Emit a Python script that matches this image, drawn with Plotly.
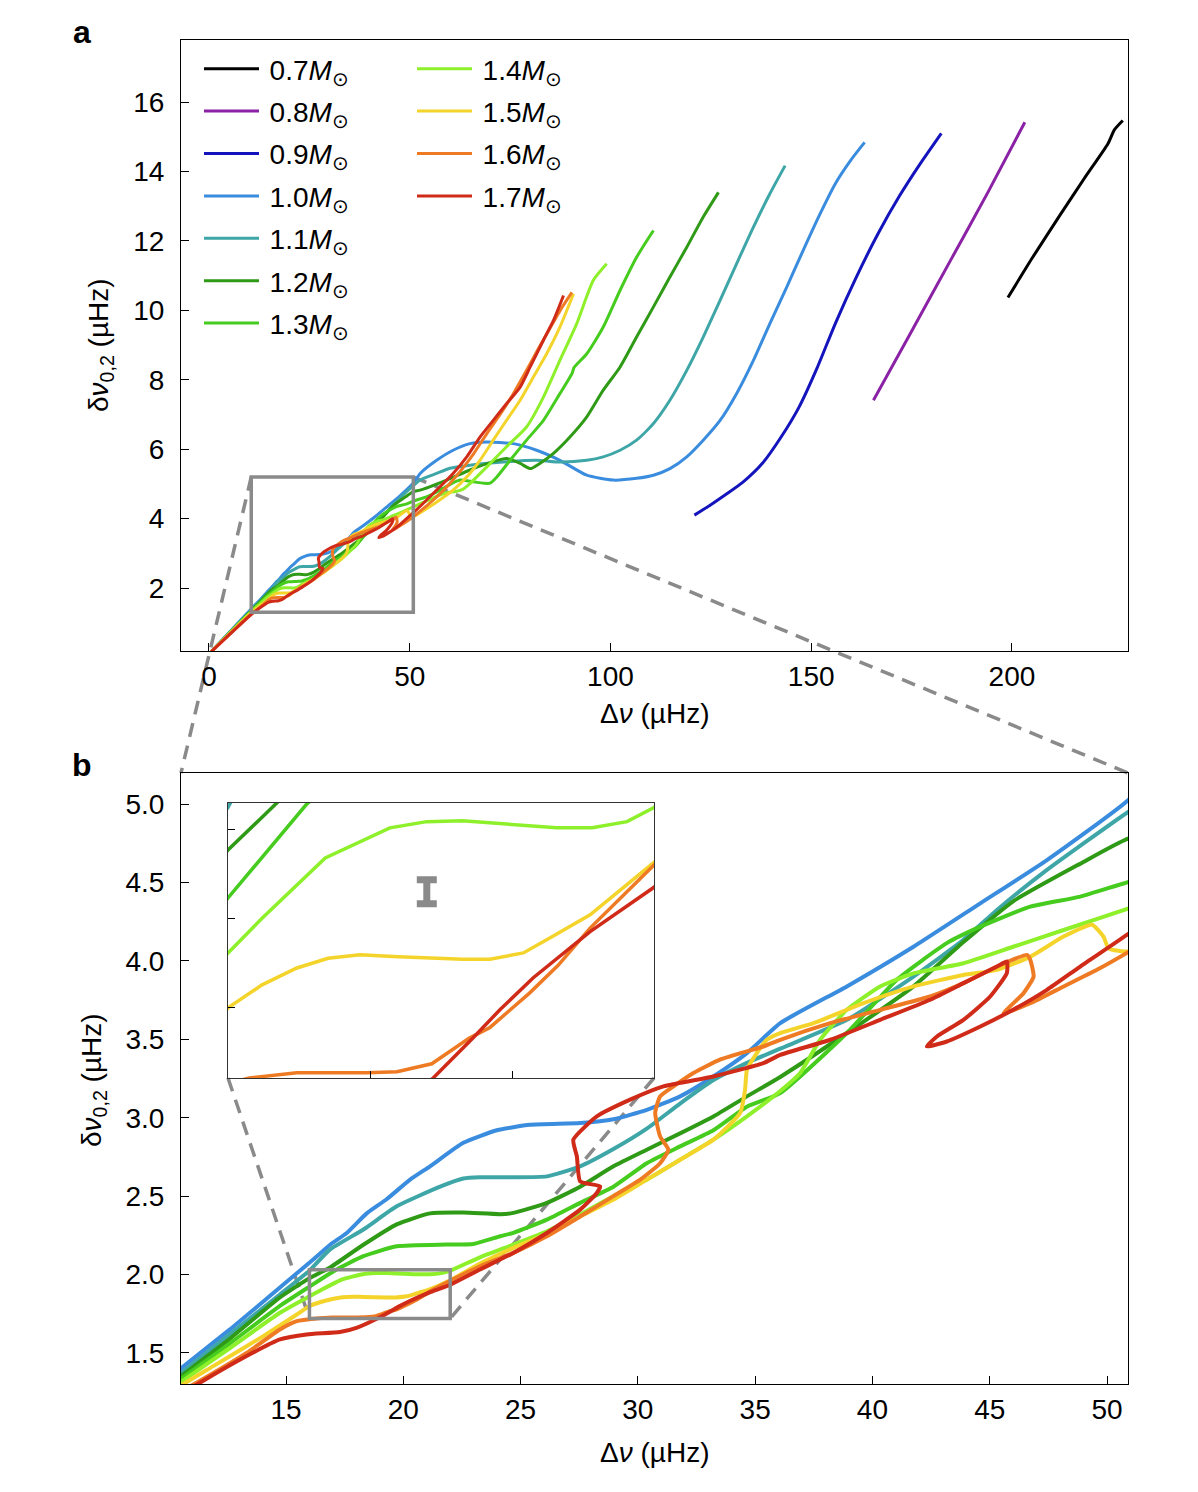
import plotly.graph_objects as go

# the page puts the plot 8 px in from the top-left corner
OFF = 8
W, H = 1198 - OFF, 1492 - OFF

masses = ["0.7", "0.8", "0.9", "1.0", "1.1", "1.2", "1.3", "1.4", "1.5", "1.6", "1.7"]
colors = ["#000000", "#8b22a6", "#1414bc", "#3a8cde", "#3fa6a8", "#2e9a16",
          "#46cc1e", "#8ef02a", "#f4d42a", "#ef7a24", "#d02a18"]

# (delta nu, small separation), one list per mass
m07 = [(199.0, 10.37), (205.0, 11.5), (212.0, 12.75), (218.0, 13.8), (223.9, 14.8),
       (225.5, 15.2), (227.6, 15.47)]
m08 = [(165.5, 7.41), (175.0, 9.4), (184.7, 11.44), (194.0, 13.4), (203.2, 15.42)]
m09 = [(120.9, 4.1), (125.0, 4.4), (128.8, 4.7), (133.0, 5.05), (137.9, 5.6),
       (142.5, 6.35), (147.0, 7.22), (151.5, 8.35), (156.0, 9.62), (161.0, 10.9),
       (166.6, 12.2), (172.0, 13.3), (177.0, 14.2), (182.4, 15.1)]
m10 = [(0.6, 0.17), (10.3, 1.375), (12.61, 1.65), (14.74, 1.917), (16.16, 2.096),
       (16.88, 2.19), (17.59, 2.265), (18.44, 2.39), (19.29, 2.48), (20.29, 2.605),
       (21.14, 2.69), (22.56, 2.84), (23.99, 2.92), (25.4, 2.955), (27.54, 2.966),
       (28.96, 2.99), (30.38, 3.05), (31.8, 3.136), (33.22, 3.263), (34.65, 3.412),
       (36.07, 3.603), (38.91, 3.837), (41.75, 4.09), (44.6, 4.367), (47.44, 4.643),
       (50.9, 5.025), (52.6, 5.30), (56.7, 5.68), (60.8, 5.97), (65.0, 6.16),
       (69.2, 6.21), (75.8, 6.16), (81.6, 5.97), (87.4, 5.68), (94.1, 5.25),
       (100.7, 5.11), (106.5, 5.16), (110.7, 5.25), (114.8, 5.44), (119.0, 5.78),
       (123.1, 6.26), (127.3, 6.83), (131.4, 7.60), (135.6, 8.56), (139.7, 9.62),
       (143.9, 10.67), (148.0, 11.73), (152.2, 12.78), (156.0, 13.65), (160.0, 14.35),
       (163.3, 14.84)]
m11 = [(0.6, 0.17), (10.3, 1.345), (12.61, 1.62), (14.74, 1.873), (16.0, 2.025),
       (16.88, 2.16), (18.3, 2.287), (19.72, 2.435), (21.57, 2.56), (22.56, 2.612),
       (23.27, 2.62), (24.69, 2.62), (26.12, 2.626), (27.54, 2.69), (28.96, 2.80),
       (30.38, 2.93), (31.8, 3.09), (33.22, 3.24), (34.65, 3.35), (36.07, 3.44),
       (38.91, 3.624), (41.75, 3.90), (43.88, 4.134), (45.31, 4.325), (47.44, 4.58),
       (50.9, 4.95), (52.6, 5.11), (56.7, 5.30), (60.0, 5.45), (65.0, 5.54),
       (73.3, 5.63), (81.6, 5.68), (87.4, 5.63), (94.1, 5.68), (98.2, 5.78),
       (102.4, 5.97), (106.5, 6.26), (110.7, 6.74), (114.8, 7.41), (119.0, 8.27),
       (123.1, 9.23), (127.3, 10.29), (131.4, 11.34), (135.6, 12.4), (139.7, 13.36),
       (143.5, 14.17)]
m12 = [(0.6, 0.17), (10.3, 1.325), (12.6, 1.59), (14.74, 1.854), (16.0, 1.977),
       (16.48, 2.014), (16.88, 2.045), (18.3, 2.19), (19.72, 2.32), (21.14, 2.39),
       (22.56, 2.395), (24.13, 2.385), (24.69, 2.393), (26.12, 2.457), (27.54, 2.56),
       (28.96, 2.69), (30.38, 2.796), (31.8, 2.90), (33.22, 3.008), (34.65, 3.136),
       (36.07, 3.26), (38.91, 3.54), (41.75, 3.837), (43.88, 4.12), (46.0, 4.38),
       (48.86, 4.62), (50.9, 4.78), (52.6, 4.82), (59.2, 5.11), (65.0, 5.40),
       (70.8, 5.64), (74.1, 5.73), (77.5, 5.59), (80.0, 5.44), (82.4, 5.59),
       (85.8, 5.88), (89.9, 6.35), (94.1, 6.93), (98.2, 7.7), (102.4, 8.37),
       (106.5, 9.23), (110.7, 10.1), (114.8, 10.96), (119.0, 11.82), (123.1, 12.69),
       (126.9, 13.4)]
m13 = [(0.6, 0.17), (10.3, 1.31), (12.6, 1.56), (14.74, 1.80), (16.0, 1.923),
       (17.1, 2.028), (18.3, 2.117), (19.72, 2.18), (21.85, 2.191), (22.99, 2.195),
       (24.13, 2.244), (24.69, 2.266), (26.12, 2.35), (27.54, 2.457), (28.96, 2.56),
       (30.38, 2.71), (31.8, 2.817), (33.22, 2.92), (34.65, 3.07), (36.07, 3.157),
       (38.91, 3.54), (41.04, 3.88), (43.17, 4.113), (44.6, 4.218), (46.73, 4.346),
       (48.86, 4.41), (50.95, 4.505), (54.0, 4.62), (57.0, 4.78), (59.5, 4.95),
       (62.5, 5.11), (65.8, 5.06), (68.5, 5.02), (70.0, 5.02), (71.7, 5.2),
       (75.0, 5.68), (79.1, 6.26), (83.3, 6.83), (87.4, 7.6), (90.5, 8.2),
       (90.9, 8.35), (94.1, 8.75), (98.2, 9.52), (102.4, 10.58), (106.5, 11.53),
       (110.7, 12.3)]
m14 = [(0.6, 0.17), (10.3, 1.29), (12.6, 1.53), (14.74, 1.756), (16.0, 1.861),
       (16.48, 1.90), (17.37, 1.968), (18.28, 2.002), (18.8, 2.009), (19.3, 2.01),
       (20.63, 2.002), (21.13, 2.002), (21.62, 2.009), (22.0, 2.025), (23.27, 2.11),
       (24.69, 2.191), (26.12, 2.276), (27.54, 2.382), (28.96, 2.50), (30.38, 2.605),
       (31.8, 2.732), (33.22, 2.86), (34.65, 3.008), (36.07, 3.17), (36.92, 3.285),
       (37.77, 3.497), (38.91, 3.688), (40.33, 3.837), (41.75, 3.92), (43.88, 3.985),
       (46.0, 4.09), (48.15, 4.197), (50.95, 4.336), (53.0, 4.45), (55.0, 4.55),
       (57.5, 4.68), (59.5, 4.75), (61.5, 4.78), (63.3, 4.85), (65.0, 5.01),
       (69.2, 5.49), (74.1, 6.07), (79.1, 6.64), (83.3, 7.5), (87.4, 8.56),
       (91.6, 9.62), (95.7, 10.86), (99.05, 11.34)]
m15 = [(0.6, 0.17), (10.3, 1.27), (11.9, 1.416), (14.03, 1.607), (15.46, 1.745),
       (16.0, 1.799), (16.48, 1.825), (16.97, 1.844), (17.41, 1.855), (17.86, 1.859),
       (18.32, 1.857), (19.3, 1.854), (19.69, 1.854), (20.16, 1.861), (20.6, 1.881),
       (21.1, 1.904), (22.0, 1.963), (23.27, 2.07), (24.69, 2.17), (26.12, 2.26),
       (27.54, 2.37), (28.96, 2.478), (30.38, 2.605), (31.8, 2.732), (33.22, 2.86),
       (34.36, 3.03), (34.57, 3.178), (34.65, 3.305), (35.07, 3.412), (35.5, 3.497),
       (36.07, 3.54), (37.49, 3.603), (39.62, 3.73), (41.75, 3.837), (43.88, 3.91),
       (45.31, 3.943), (46.73, 4.027), (48.15, 4.155), (49.36, 4.23), (49.85, 4.155),
       (50.07, 4.08), (50.95, 4.06), (53.0, 4.2), (56.0, 4.42), (58.5, 4.62),
       (60.8, 4.82), (64.2, 5.20), (67.5, 5.68), (70.8, 6.26), (74.1, 6.83),
       (77.5, 7.41), (80.8, 8.08), (84.1, 8.75), (87.4, 9.52), (90.8, 10.48)]
m16 = [(0.6, 0.17), (10.3, 1.235), (11.19, 1.31), (13.32, 1.50), (14.74, 1.65),
       (15.46, 1.703), (16.3, 1.72), (16.97, 1.726), (17.96, 1.726), (18.38, 1.727),
       (18.87, 1.736), (19.4, 1.765), (19.69, 1.777), (20.25, 1.816), (20.65, 1.847),
       (21.1, 1.889), (22.0, 1.96), (23.27, 2.053), (24.69, 2.138), (26.12, 2.244),
       (27.54, 2.37), (28.96, 2.50), (30.1, 2.605), (30.95, 2.71), (31.3, 2.796),
       (30.95, 2.88), (30.74, 3.03), (30.95, 3.136), (31.52, 3.20), (32.37, 3.285),
       (33.5, 3.37), (35.35, 3.454), (36.07, 3.497), (38.2, 3.603), (40.33, 3.688),
       (42.46, 3.773), (43.88, 3.858), (45.31, 3.964), (46.59, 4.038), (46.73, 4.006),
       (46.87, 3.90), (46.44, 3.794), (45.59, 3.666), (46.73, 3.73), (48.15, 3.837),
       (49.57, 3.943), (50.95, 4.06), (53.0, 4.25), (56.0, 4.55), (58.7, 4.85),
       (62.5, 5.35), (65.8, 5.85), (69.2, 6.45), (72.5, 7.0), (75.8, 7.6),
       (79.0, 8.25), (82.3, 8.95), (85.5, 9.6), (88.0, 10.1), (90.4, 10.52)]
m17 = [(0.6, 0.17), (10.3, 1.215), (11.33, 1.31), (13.32, 1.48), (14.74, 1.586),
       (15.88, 1.618), (17.3, 1.633), (18.0, 1.66), (18.89, 1.72), (19.45, 1.765),
       (19.83, 1.797), (20.3, 1.833), (21.1, 1.885), (22.0, 1.935), (23.27, 2.032),
       (24.69, 2.138), (26.12, 2.265), (27.54, 2.414), (28.25, 2.52), (28.39, 2.562),
       (27.54, 2.594), (27.4, 2.753), (27.25, 2.86), (28.25, 3.008), (29.67, 3.115),
       (31.09, 3.20), (33.22, 3.263), (35.35, 3.348), (36.07, 3.40), (38.2, 3.497),
       (40.33, 3.624), (42.46, 3.752), (43.88, 3.858), (45.31, 3.964), (45.73, 3.996),
       (45.73, 3.922), (45.02, 3.773), (43.88, 3.624), (42.75, 3.518), (42.32, 3.454),
       (43.17, 3.486), (44.6, 3.582), (46.0, 3.688), (47.44, 3.815), (48.86, 3.964),
       (50.95, 4.176), (53.0, 4.4), (56.7, 4.82), (60.8, 5.30), (64.2, 5.78),
       (67.5, 6.35), (70.8, 6.83), (74.1, 7.31), (77.5, 7.79), (80.0, 8.37),
       (83.3, 9.14), (85.8, 9.71), (88.3, 10.43)]
tracks = [m07, m08, m09, m10, m11, m12, m13, m14, m15, m16, m17]

# typical uncertainty marker in the inset
err_x = [18.8]
err_y = [1.93]
err_half = [0.0135]

top_xticks = [0, 50, 100, 150, 200]
top_yticks = [2, 4, 6, 8, 10, 12, 14, 16]
bot_xticks = [15, 20, 25, 30, 35, 40, 45, 50]
bot_yticks = [1.5, 2.0, 2.5, 3.0, 3.5, 4.0, 4.5, 5.0]

# axis ranges
TOP_XR = [-6.97, 228.9]
TOP_YR = [0.185, 17.79]
BOT_XR = [10.524, 50.895]
BOT_YR = [1.302, 5.198]
INS_XR = [16.0, 22.0]
INS_YR = [1.72, 2.03]


def sx(px):
    """screen pixel x -> paper"""
    return (px - OFF) / W


def sy(py):
    """screen pixel y -> paper"""
    return 1 - (py - OFF) / H


X_DOM = [sx(181), sx(1128)]
TOP_YDOM = [sy(651), sy(40)]
BOT_YDOM = [sy(1384), sy(773)]
INS_XDOM = [sx(228), sx(654)]
INS_YDOM = [sy(1078), sy(803)]

FONT = "Liberation Sans, Arial, Helvetica, sans-serif"
GREY = "#8a8a8a"


def to_paper(v, rng, dom):
    return dom[0] + (v - rng[0]) / (rng[1] - rng[0]) * (dom[1] - dom[0])


fig = go.Figure()

for i, (m, c, tr) in enumerate(zip(masses, colors, tracks)):
    xs = [p[0] for p in tr]
    ys = [p[1] for p in tr]
    fig.add_trace(go.Scatter(
        x=xs, y=ys, mode="lines",
        line=dict(color=c, width=3, shape="spline", smoothing=0.6),
        name=f"\u2009{m}<i>M</i><sub>⊙</sub>", legendgroup=m,
        legend="legend" if i < 7 else "legend2",
        xaxis="x", yaxis="y"))

for m, c, tr in zip(masses[3:], colors[3:], tracks[3:]):
    xs = [p[0] for p in tr]
    ys = [p[1] for p in tr]
    fig.add_trace(go.Scatter(
        x=xs, y=ys, mode="lines",
        line=dict(color=c, width=4, shape="spline", smoothing=0.5),
        legendgroup=m, showlegend=False, xaxis="x2", yaxis="y2"))
    fig.add_trace(go.Scatter(
        x=xs, y=ys, mode="lines", line=dict(color=c, width=3.5),
        legendgroup=m, showlegend=False, xaxis="x3", yaxis="y3"))

fig.add_trace(go.Scatter(
    x=err_x, y=err_y, mode="markers", marker=dict(size=1, color=GREY),
    error_y=dict(type="data", array=err_half, color=GREY, thickness=7, width=10),
    showlegend=False, hoverinfo="skip", xaxis="x3", yaxis="y3"))

axis_common = dict(
    showgrid=False, zeroline=False, showline=True, linecolor="black", linewidth=1,
    mirror=True, ticks="inside", ticklen=8, tickwidth=1, tickcolor="black",
    tickfont=dict(family=FONT, size=28, color="black"),
)

legend_common = dict(xanchor="left", yanchor="top", bgcolor="rgba(0,0,0,0)",
                     font=dict(family=FONT, size=28, color="black"),
                     itemwidth=55, tracegroupgap=3)

fig.update_layout(
    width=W, height=H,
    margin=dict(l=0, r=0, t=0, b=0),
    paper_bgcolor="white", plot_bgcolor="rgba(0,0,0,0)",
    font=dict(family=FONT, size=28, color="black"),
    xaxis=dict(axis_common, domain=X_DOM, range=TOP_XR, tickvals=top_xticks,
               anchor="y", ticklabelstandoff=0),
    yaxis=dict(axis_common, domain=TOP_YDOM, range=TOP_YR, tickvals=top_yticks,
               anchor="x", ticklabelstandoff=10),
    xaxis2=dict(axis_common, domain=X_DOM, range=BOT_XR, tickvals=bot_xticks,
                anchor="y2", ticklabelstandoff=0),
    yaxis2=dict(axis_common, domain=BOT_YDOM, range=BOT_YR, tickvals=bot_yticks,
                tickformat=".1f", anchor="x2", ticklabelstandoff=10),
    xaxis3=dict(axis_common, domain=INS_XDOM, range=INS_XR, tickvals=[18, 20],
                showticklabels=False, ticklen=7, linecolor="#333333", anchor="y3"),
    yaxis3=dict(axis_common, domain=INS_YDOM, range=INS_YR, tickvals=[1.8, 1.9, 2.0],
                showticklabels=False, ticklen=7, linecolor="#333333", anchor="x3"),
    legend=dict(legend_common, x=sx(199), y=sy(44)),
    legend2=dict(legend_common, x=sx(412), y=sy(44)),
)

# zoom boxes
fig.add_shape(type="rect", xref="x", yref="y", x0=BOT_XR[0], x1=BOT_XR[1],
              y0=BOT_YR[0], y1=BOT_YR[1], line=dict(color=GREY, width=3.5))
fig.add_shape(type="rect", xref="x2", yref="y2", x0=INS_XR[0], x1=INS_XR[1],
              y0=INS_YR[0], y1=INS_YR[1], line=dict(color=GREY, width=3.5))

# connector lines between zoom boxes and the zoomed panels
box_l = to_paper(BOT_XR[0], TOP_XR, X_DOM)
box_r = to_paper(BOT_XR[1], TOP_XR, X_DOM)
box_t = to_paper(BOT_YR[1], TOP_YR, TOP_YDOM)
small_l = to_paper(INS_XR[0], BOT_XR, X_DOM)
small_r = to_paper(INS_XR[1], BOT_XR, X_DOM)
small_b = to_paper(INS_YR[0], BOT_YR, BOT_YDOM)
connectors = [
    (box_l, box_t, X_DOM[0], BOT_YDOM[1]),
    (box_r, box_t, X_DOM[1], BOT_YDOM[1]),
    (INS_XDOM[0], INS_YDOM[0], small_l, small_b),
    (INS_XDOM[1], INS_YDOM[0], small_r, small_b),
]
for x0, y0, x1, y1 in connectors:
    fig.add_shape(type="line", xref="paper", yref="paper", x0=x0, y0=y0, x1=x1, y1=y1,
                  line=dict(color=GREY, width=3.5, dash="14px,9px"), layer="below")

title_font = dict(family=FONT, size=28, color="black")
dnu = "Δ<i>ν</i> (µHz)"
sep = "δ<i>ν</i><sub>0,2</sub> (µHz)"
annotations = [
    dict(text="<b>a</b>", x=sx(82), y=sy(32), font=dict(title_font, size=32)),
    dict(text="<b>b</b>", x=sx(82), y=sy(765), font=dict(title_font, size=32)),
    dict(text=dnu, x=sx(654), y=sy(713), font=title_font),
    dict(text=dnu, x=sx(654), y=sy(1452), font=title_font),
    dict(text=sep, x=sx(100), y=sy(345), textangle=-90, font=title_font),
    dict(text=sep, x=sx(93), y=sy(1080), textangle=-90, font=title_font),
]
for a in annotations:
    fig.add_annotation(xref="paper", yref="paper", showarrow=False,
                       xanchor="center", yanchor="middle", **a)

fig.write_html("out.html")
